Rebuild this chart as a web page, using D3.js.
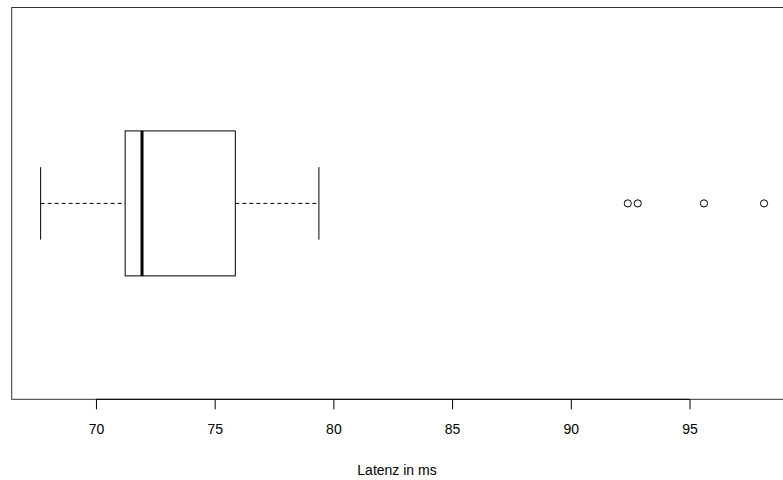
<!DOCTYPE html>
<meta charset="utf-8">
<style>
body { margin: 0; background: #fff; }
text { font-family: "Liberation Sans", Arial, sans-serif; }
.axis text { font-size: 14px; fill: #000; }
.axis line, .axis path { stroke: #000; }
</style>
<body>
<script src="https://d3js.org/d3.v7.min.js"></script>
<script>

// five-number summary of the latency sample (ms)
var whiskers = [67.67, 79.39];
var quartiles = [71.23, 75.87];
var median = 71.94;
var outliers = [92.40, 92.82, 95.61, 98.14];
var tickValues = [70, 75, 80, 85, 90, 95];
var axisTitle = "Latenz in ms";

var W = 783, H = 480;

// R style: data range padded by 4% on each side
var lo = whiskers[0], hi = d3.max(outliers);
var pad = (hi - lo) * 0.04;

var x = d3.scaleLinear().domain([lo - pad, hi + pad]).range([11.7, 793]);
var y = d3.scaleLinear().domain([0.5, 1.5]).range([399.3, 7.5]);

var svg = d3.select("body").append("svg")
    .attr("width", W)
    .attr("height", H);

var boxHalf = 0.185, capHalf = boxHalf / 2;

// dashed whiskers
svg.selectAll(".whisker")
    .data([[whiskers[0], quartiles[0]], [quartiles[1], whiskers[1]]])
  .enter().append("line")
    .attr("class", "whisker")
    .attr("x1", function(d) { return x(d[0]); })
    .attr("x2", function(d) { return x(d[1]); })
    .attr("y1", y(1))
    .attr("y2", y(1))
    .style("stroke", "#000")
    .style("stroke-dasharray", "4,3");

// staples
svg.selectAll(".cap")
    .data(whiskers)
  .enter().append("line")
    .attr("x1", function(d) { return x(d); })
    .attr("x2", function(d) { return x(d); })
    .attr("y1", y(1 + capHalf))
    .attr("y2", y(1 - capHalf))
    .style("stroke", "#000");

// box
svg.append("rect")
    .attr("x", x(quartiles[0]))
    .attr("y", y(1 + boxHalf))
    .attr("width", x(quartiles[1]) - x(quartiles[0]))
    .attr("height", y(1 - boxHalf) - y(1 + boxHalf))
    .style("fill", "none")
    .style("stroke", "#000");

// median
svg.append("line")
    .attr("x1", x(median))
    .attr("x2", x(median))
    .attr("y1", y(1 + boxHalf))
    .attr("y2", y(1 - boxHalf))
    .style("stroke", "#000")
    .style("stroke-width", 3);

// outliers
svg.selectAll(".out")
    .data(outliers)
  .enter().append("circle")
    .attr("cx", function(d) { return x(d); })
    .attr("cy", y(1))
    .attr("r", 3.6)
    .style("fill", "none")
    .style("stroke", "#000");

// plot frame
svg.append("rect")
    .attr("x", x.range()[0])
    .attr("y", y.range()[1])
    .attr("width", x.range()[1] - x.range()[0])
    .attr("height", y.range()[0] - y.range()[1])
    .style("fill", "none")
    .style("stroke", "#333");

// x axis
var axis = svg.append("g")
    .attr("class", "axis")
    .attr("transform", "translate(0," + y.range()[0] + ")")
    .call(d3.axisBottom(x)
        .tickValues(tickValues)
        .tickSize(10)
        .tickPadding(15)
        .tickSizeOuter(0));
axis.select(".domain")
    .attr("d", "M" + x(tickValues[0]) + ",0H" + x(tickValues[tickValues.length - 1]));

// axis title
svg.append("text")
    .attr("x", 397)
    .attr("y", 475)
    .attr("text-anchor", "middle")
    .style("font-size", "14px")
    .text(axisTitle);

</script>
</body>
